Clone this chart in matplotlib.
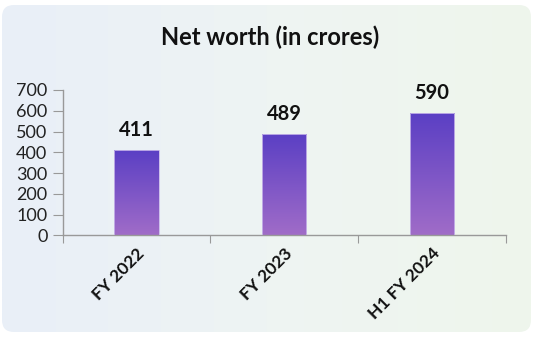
import numpy as np
import matplotlib.pyplot as plt
from matplotlib.patches import FancyBboxPatch
from matplotlib.colors import LinearSegmentedColormap

categories = ['FY 2022', 'FY 2023', 'H1 FY 2024']
net_worth = [411, 489, 590]
y_ticks = [0, 100, 200, 300, 400, 500, 600, 700]

plt.rcParams['font.family'] = ['Lato', 'DejaVu Sans']

fig = plt.figure(figsize=(5.33, 3.38), dpi=100)

# rounded background panel with soft gradient
bg = fig.add_axes([0, 0, 1, 1])
bg.set_xlim(0, 533)
bg.set_ylim(338, 0)
bg.axis('off')
bg_cmap = LinearSegmentedColormap.from_list('bg', ['#e9eff8', '#eef4f3', '#eff6ec'])
img = bg.imshow(np.linspace(0, 1, 256).reshape(1, -1), cmap=bg_cmap, aspect='auto',
                extent=[2, 531, 332, 5], zorder=0)
panel = FancyBboxPatch((2, 5), 529, 327, boxstyle='round,pad=0,rounding_size=12',
                       facecolor='none', edgecolor='none', transform=bg.transData)
bg.add_patch(panel)
img.set_clip_path(panel)

ax = fig.add_axes([62.7 / 533, 1 - 235.3 / 338, (505.7 - 62.7) / 533, (235.3 - 90) / 338])
ax.patch.set_alpha(0)
x = np.arange(len(categories))
bars = ax.bar(x, net_worth, width=0.3, color='none', edgecolor='#c9b8ea', linewidth=0.6, zorder=3)

bar_cmap = LinearSegmentedColormap.from_list('bar', ['#a06cc8', '#5a3fc4'])
grad = np.linspace(0, 1, 256).reshape(-1, 1)
for b in bars:
    bx, by = b.get_x(), b.get_y()
    bw, bh = b.get_width(), b.get_height()
    im = ax.imshow(grad, cmap=bar_cmap, aspect='auto', origin='lower',
                   extent=[bx, bx + bw, by, by + bh], zorder=2)
    im.set_clip_path(b)
    ax.text(bx + bw / 2, bh + 96, str(int(bh)), ha='center', va='center',
            fontsize=14.5, fontweight='bold', color='#111111', clip_on=False)

ax.set_xlim(-0.5, len(categories) - 0.5)
ax.set_ylim(0, 700)
ax.set_yticks(y_ticks)
ax.set_xticks([-0.5, 0.5, 1.5, 2.5], minor=False)
ax.set_xticklabels([])
ax.set_xticks(x, minor=True)
ax.set_xticklabels(categories, minor=True, rotation=45, ha='right', va='top',
                   rotation_mode='anchor', fontsize=12.5, fontweight='bold', color='#111111')
ax.tick_params(axis='x', which='minor', length=0, pad=7)
ax.tick_params(axis='x', which='major', length=6, color='#999999', direction='out')
ax.tick_params(axis='y', length=7, color='#999999', labelsize=13, labelcolor='#222222', pad=4)
for s in ['top', 'right']:
    ax.spines[s].set_visible(False)
for s in ['left', 'bottom']:
    ax.spines[s].set_color('#999999')
    ax.spines[s].set_linewidth(1)

fig.text(270 / 533, 1 - 37 / 338, 'Net worth (in crores)', ha='center', va='center',
         fontsize=17, fontweight='bold', color='#111111')

fig.savefig('out.png', dpi=100, facecolor='white')
